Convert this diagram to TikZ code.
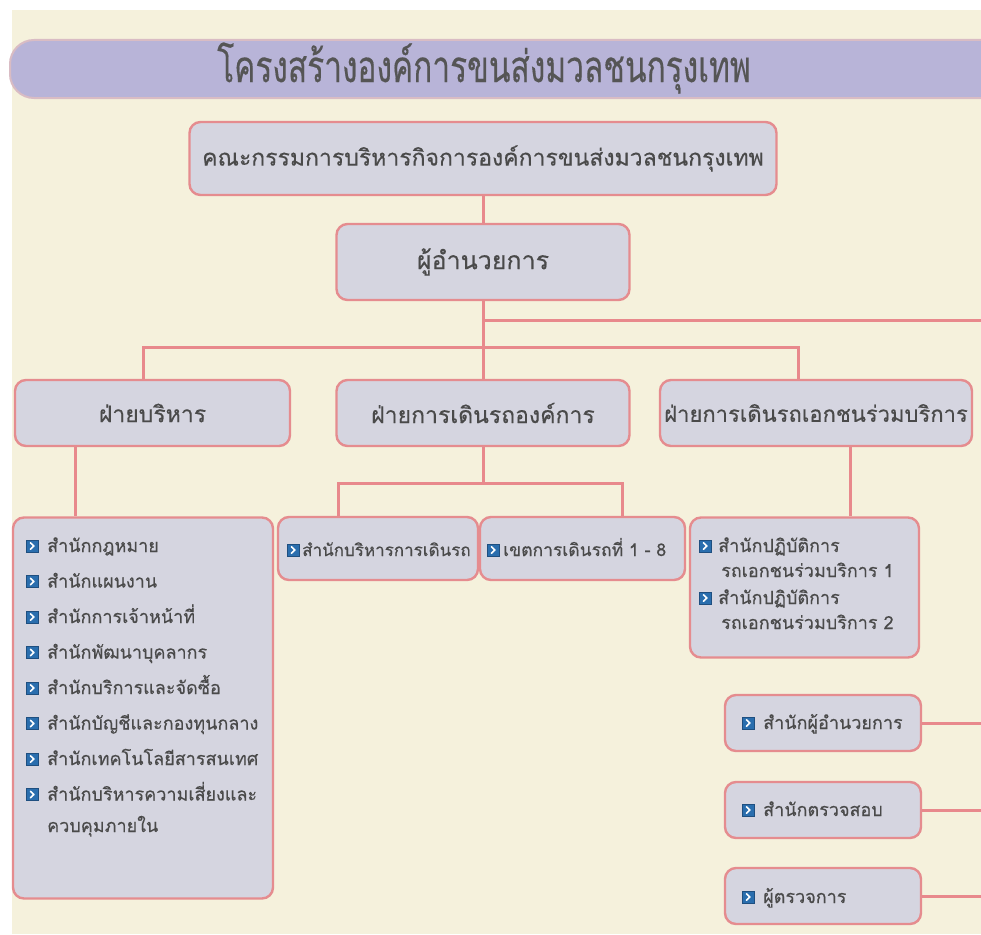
\documentclass[tikz,border=0pt]{standalone}
\usepackage{fontspec}
\setmainfont[Script=Thai,FakeBold=0.4]{Loma}
\newfontfamily\titlefont[Script=Thai,FakeStretch=0.72,FakeBold=0.3]{Loma}
\usetikzlibrary{positioning}
\definecolor{bgcream}{HTML}{F5F1DC}
\definecolor{boxfill}{HTML}{D5D5E0}
\definecolor{boxline}{HTML}{E58C8F}
\definecolor{conn}{HTML}{E8898C}
\definecolor{titlefill}{HTML}{B8B4D8}
\definecolor{titleedge}{HTML}{D9BCC4}
\definecolor{txt}{HTML}{4A4A4A}
\definecolor{titletxt}{HTML}{555555}
\definecolor{bulblue}{HTML}{2A6EAE}
\definecolor{buledge}{HTML}{1F4F80}
\pgfdeclarelayer{back}
\pgfdeclarelayer{lines}
\pgfsetlayers{back,lines,main}
\tikzset{
  orgbox/.style={draw=boxline, fill=boxfill, line width=2.4pt, rounded corners=11pt, inner sep=0pt, text=txt},
  titlebar/.style={draw=titleedge, fill=titlefill, line width=2pt, rounded corners=24pt, inner sep=0pt},
  link/.style={draw=conn, line width=3pt},
  item/.style={anchor=base west, text=txt, font=\fontsize{18}{21}\selectfont, inner sep=0pt},
  bul/.pic={\fill[bulblue, draw=buledge, line width=0.5pt] (-6,-6) rectangle (6,6);
            \draw[white, line width=1.6pt, line cap=round, line join=round] (-1.6,-3.2) -- (1.9,0) -- (-1.6,3.2);}
}
\begin{document}
\begin{tikzpicture}[x=1pt,y=-1pt]
\useasboundingbox (0,0) rectangle (981,934);
\clip (0,0) rectangle (981,934);
\begin{pgfonlayer}{back}
\fill[white] (0,0) rectangle (981,934);
\fill[bgcream] (12,10) rectangle (981,934);
\end{pgfonlayer}

% title
\node[titlebar, minimum width=1000pt, minimum height=58pt] (bar) at (510,69) {};
\node[text=titletxt, font=\titlefont\fontsize{44}{48}\selectfont] (title) at (484,68) {โครงสร้างองค์การขนส่งมวลชนกรุงเทพ};

% top boxes
\node[orgbox, minimum width=587pt, minimum height=73pt, font=\fontsize{23}{26}\selectfont] (board) at (483,158.5) {คณะกรรมการบริหารกิจการองค์การขนส่งมวลชนกรุงเทพ};
\node[orgbox, minimum width=293pt, minimum height=76pt, font=\fontsize{25}{28}\selectfont] (dir) at (483,262) {ผู้อำนวยการ};

% divisions
\node[orgbox, minimum width=275pt, minimum height=66pt, font=\fontsize{23}{26}\selectfont] (div1) at (152.5,413) {ฝ่ายบริหาร};
\node[orgbox, minimum width=293pt, minimum height=66pt, font=\fontsize{23}{26}\selectfont] (div2) at (483,413) {ฝ่ายการเดินรถองค์การ};
\node[orgbox, minimum width=312pt, minimum height=66pt, font=\fontsize{22}{26}\selectfont] (div3) at (816,413) {ฝ่ายการเดินรถเอกชนร่วมบริการ};

% lower boxes
\node[orgbox, minimum width=260pt, minimum height=381pt] (list) at (143,708) {};
\node[orgbox, minimum width=200pt, minimum height=63pt] (midA) at (378,548.5) {};
\node[orgbox, minimum width=205pt, minimum height=63pt] (midB) at (582.5,548.5) {};
\node[orgbox, minimum width=229pt, minimum height=140pt] (right) at (804.5,587.5) {};
\node[orgbox, minimum width=196pt, minimum height=56pt] (s1) at (823,723) {};
\node[orgbox, minimum width=196pt, minimum height=56pt] (s2) at (823,810) {};
\node[orgbox, minimum width=196pt, minimum height=56pt] (s3) at (823,896) {};

% list items
\foreach \t [count=\i from 0] in {สำนักกฎหมาย,สำนักแผนงาน,สำนักการเจ้าหน้าที่,สำนักพัฒนาบุคลากร,สำนักบริการและจัดซื้อ,สำนักบัญชีและกองทุนกลาง,สำนักเทคโนโลยีสารสนเทศ,สำนักบริหารความเสี่ยงและ}{
  \pgfmathsetmacro{\yy}{546+35.5*\i}
  \pic at (32,\yy) {bul};
  \node[item] (li\i) at (47,\yy+6) {\t};
}
\node[item] (li8) at (47,832) {ควบคุมภายใน};

% middle items
\pic at (293,550) {bul};
\node[item, font=\fontsize{17}{20}\selectfont] (ma) at (302,556) {สำนักบริหารการเดินรถ};
\pic at (493,550) {bul};
\node[item, font=\fontsize{17.5}{20}\selectfont] (mb) at (503,556) {เขตการเดินรถที่ 1 - 8};

% right items
\pic at (705,546) {bul};
\node[item] (r1a) at (718,552) {สำนักปฏิบัติการ};
\node[item] (r1b) at (721,577) {รถเอกชนร่วมบริการ 1};
\pic at (705,598) {bul};
\node[item] (r2a) at (718,604) {สำนักปฏิบัติการ};
\node[item] (r2b) at (721,629) {รถเอกชนร่วมบริการ 2};

% small boxes items
\pic at (748,723) {bul};
\node[item] (t1) at (763,729) {สำนักผู้อำนวยการ};
\pic at (748,810) {bul};
\node[item] (t2) at (763,816) {สำนักตรวจสอบ};
\pic at (748,897) {bul};
\node[item] (t3) at (763,903) {ผู้ตรวจการ};

% connectors
\coordinate (hub) at (483,320);
\coordinate (edge) at (990,320);
\coordinate (j1) at (143,347);
\coordinate (j3) at (798,347);
\coordinate (k1) at (75,480);
\coordinate (j2) at (483,483);
\coordinate (ja) at (338,483);
\coordinate (jb) at (622,483);
\coordinate (k3) at (850,480);
\begin{pgfonlayer}{lines}
\draw[link] (board.south) -- (dir.north);
\draw[link] (dir.south) -- (div2.north);
\draw[link] (hub) -- (edge);
\draw[link] (j1 |- div1.north) -- (j1) -- (j3) -- (j3 |- div3.north);
\draw[link] (k1 |- div1.south) -- (k1 |- list.north);
\draw[link] (div2.south) -- (j2);
\draw[link] (ja |- midA.north) -- (ja) -- (jb) -- (jb |- midB.north);
\draw[link] (k3 |- div3.south) -- (k3 |- right.north);
\draw[link] (s1.east) -- (s1.east -| edge);
\draw[link] (s2.east) -- (s2.east -| edge);
\draw[link] (s3.east) -- (s3.east -| edge);
\end{pgfonlayer}
\end{tikzpicture}
\end{document}
